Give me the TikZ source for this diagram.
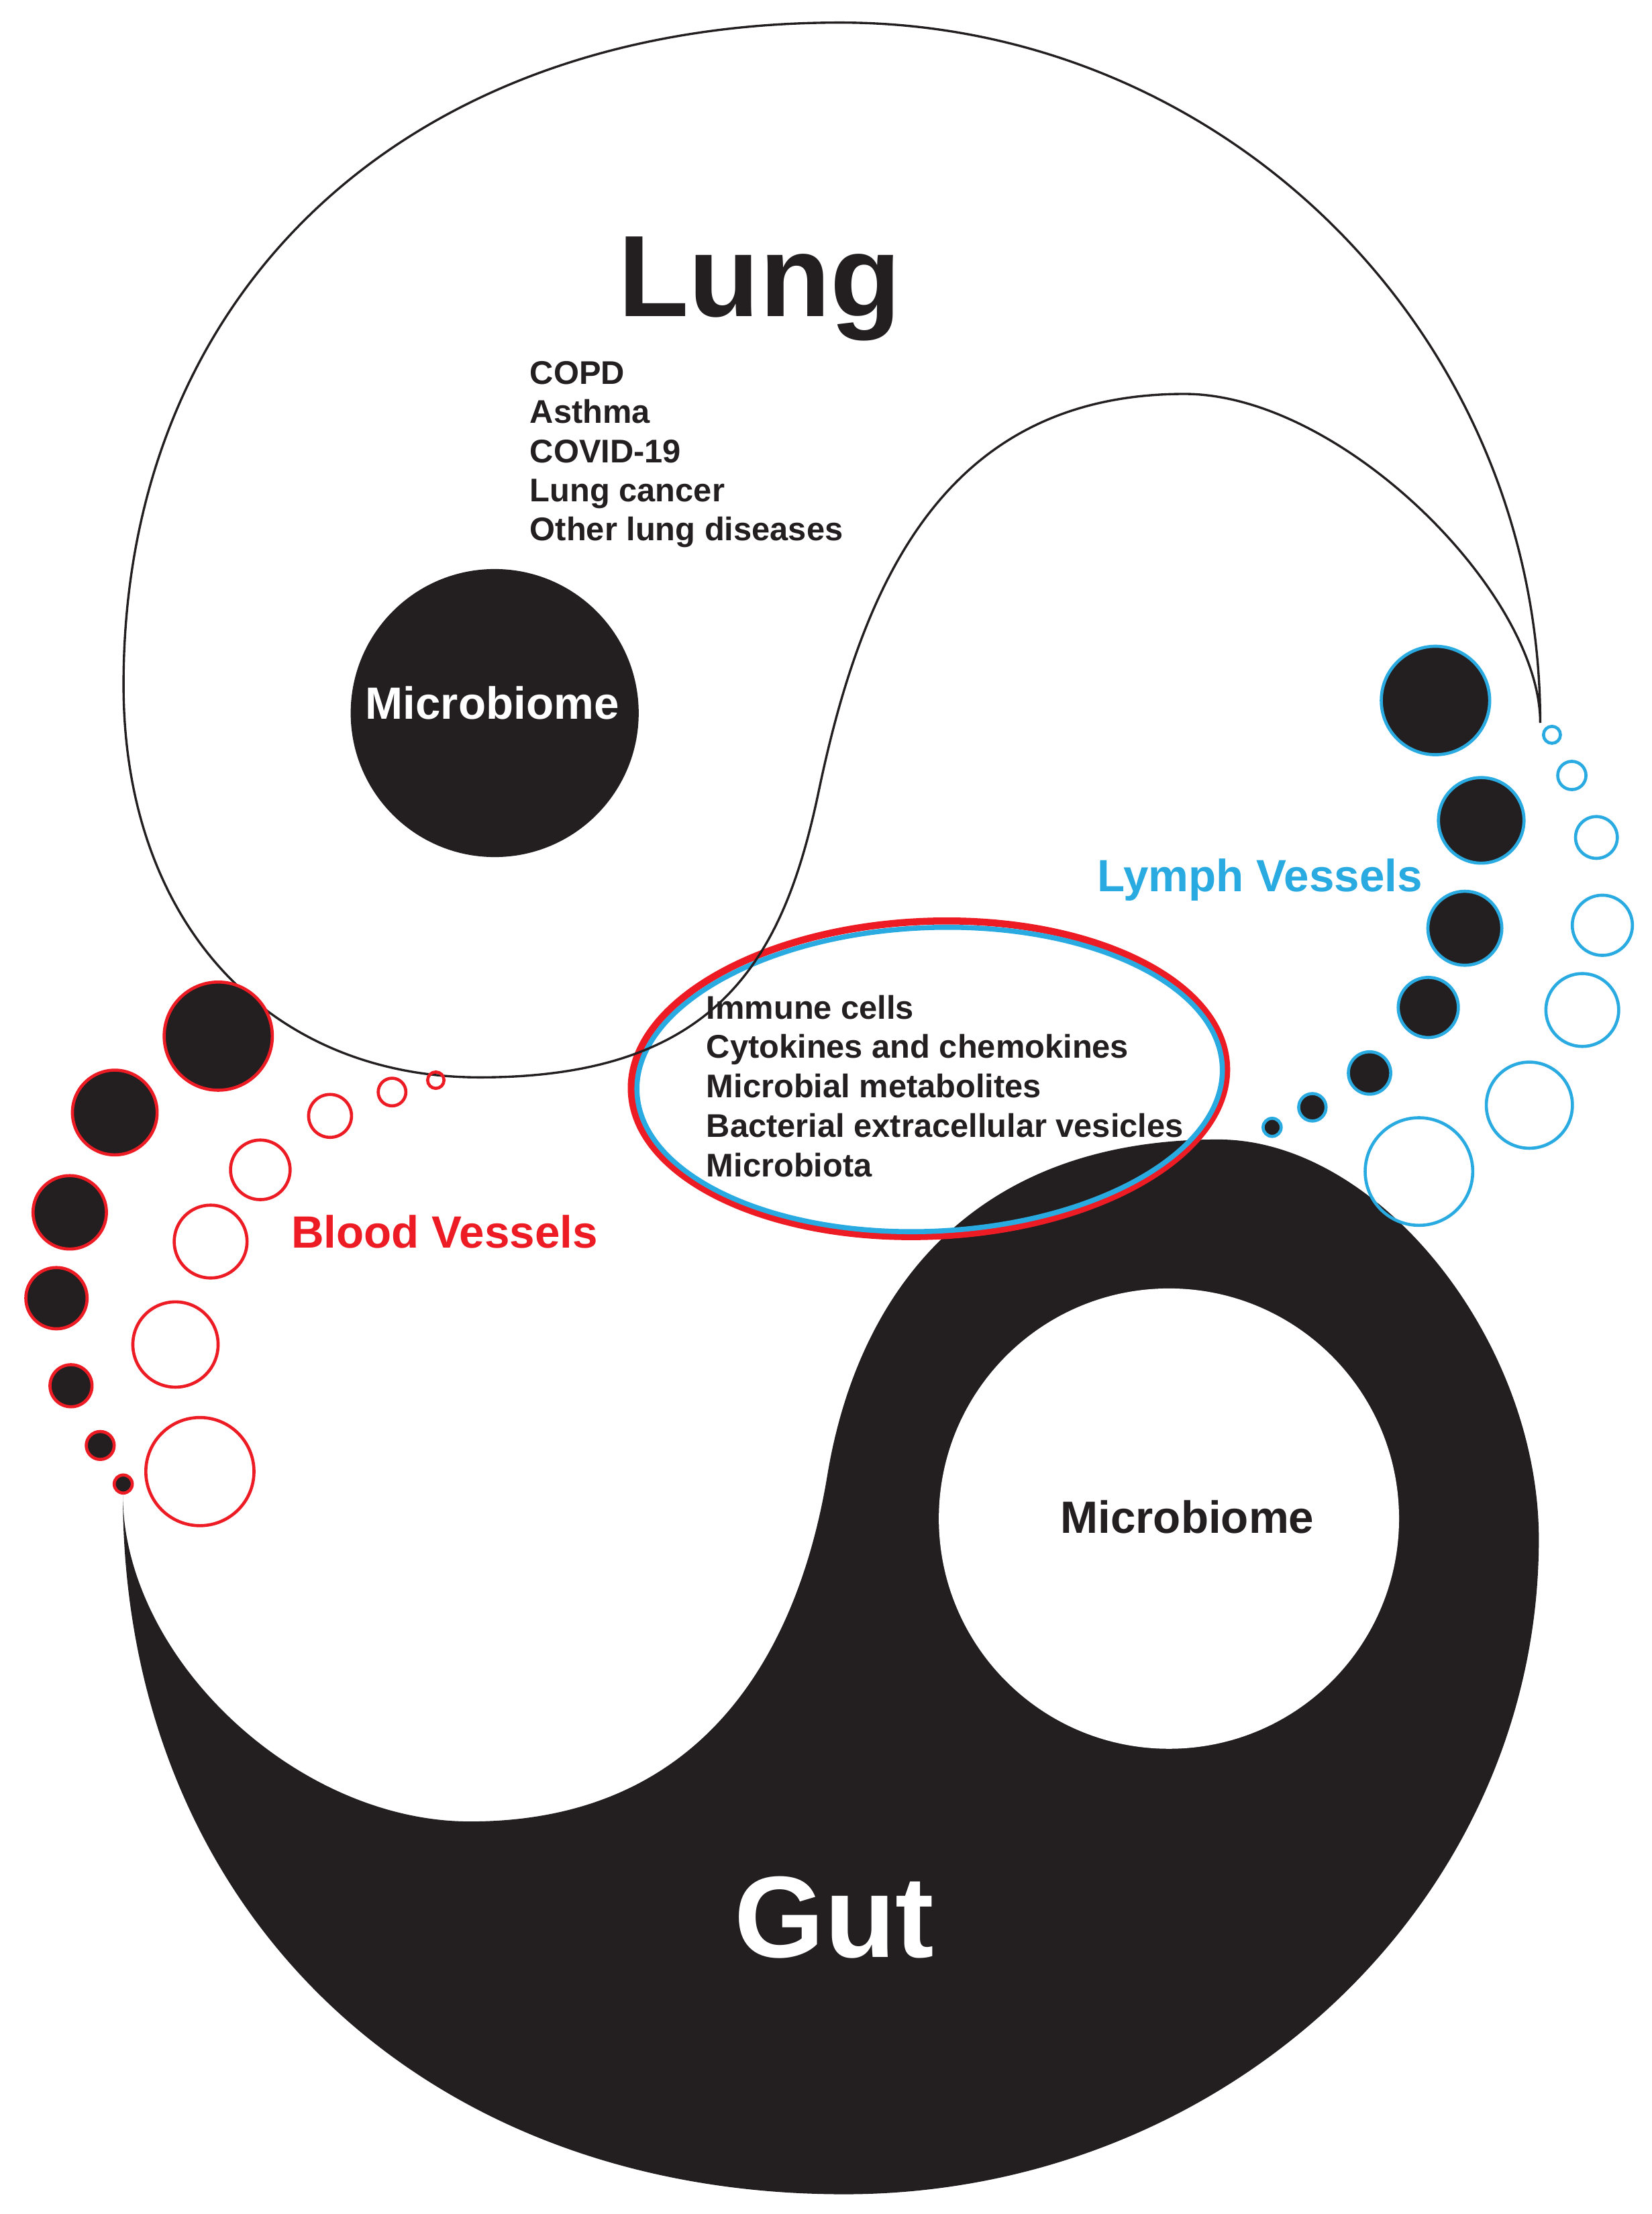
\documentclass[tikz,border=0pt]{standalone}
\usepackage{fontspec}
\setmainfont{Liberation Sans}
\definecolor{ink}{HTML}{231F20}
\definecolor{bred}{HTML}{ED1C24}
\definecolor{lblue}{HTML}{29ABE2}
\begin{document}
\begin{tikzpicture}[x=0.5pt,y=-0.5pt,
  lungline/.style={draw=ink, line width=0.8pt},
  bigtitle/.style={font=\fontsize{41}{41}\selectfont\bfseries, inner sep=0pt, anchor=base west},
  listtext/.style={font=\fontsize{11.6}{13.9}\selectfont\bfseries, inner sep=0pt, anchor=base west, text=ink},
  vessellabel/.style={font=\fontsize{16}{18}\selectfont\bfseries, inner sep=0pt, anchor=base west},
  microtext/.style={font=\fontsize{16}{18}\selectfont\bfseries, inner sep=0pt, anchor=base},
  bloodfull/.style={fill=ink, draw=bred, line width=1.1pt},
  bloodopen/.style={draw=bred, line width=1.1pt},
  lymphfull/.style={fill=ink, draw=lblue, line width=1.1pt},
  lymphopen/.style={draw=lblue, line width=1.1pt}]
\useasboundingbox (0,0) rectangle (1170,1568);
\fill[white] (0,0) rectangle (1170,1568);

% Gut (black tear shape)
\fill[ink] (87,1058) .. controls (87,1350.6) and (296.5,1554) .. (598,1554)
  .. controls (869,1554) and (1090,1346) .. (1090,1090)
  .. controls (1090,949.5) and (976.5,807) .. (863,807)
  .. controls (683,807) and (606.4,921.6) .. (586,1045)
  .. controls (566.4,1163.4) and (503,1290) .. (333,1290)
  .. controls (210,1290) and (87,1174) .. (87,1058) -- cycle;
\fill[white] (828,1075.5) circle[radius=163];

% Lung microbiome
\fill[ink] (350.4,505) circle[radius=102];

% Central ellipses
\draw[bred, line width=2.5pt, rotate around={2.5:(658,764)}] (658,764) ellipse[x radius=211, y radius=111.5];
\draw[lblue, line width=1.8pt, rotate around={2.5:(658.5,764.5)}] (658.5,764.5) ellipse[x radius=207.5, y radius=107.5];

% Lung outline
\draw[lungline] (1091,512) .. controls (1091,238) and (869,16) .. (595,16)
  .. controls (290.5,16) and (87.5,203.6) .. (87.5,485)
  .. controls (87.5,651.8) and (188.5,763) .. (340,763)
  .. controls (510,763) and (555.4,677.5) .. (580,560)
  .. controls (610.8,413.2) and (669,279) .. (839,279)
  .. controls (950,279) and (1091,420) .. (1091,512);

% Titles
\node[bigtitle, text=ink] (lung) at (437.5,223.9) {Lung};
\node[bigtitle, text=white] (gut) at (520,1386) {Gut};

% Disease list
\foreach \t [count=\i from 0] in {COPD,Asthma,COVID-19,Lung cancer,Other lung diseases}
  \node[listtext] (dis\i) at (375,272+27.75*\i) {\t};

% Mediators list
\foreach \t [count=\i from 0] in {Immune cells,Cytokines and chemokines,Microbial metabolites,Bacterial extracellular vesicles,Microbiota}
  \node[listtext] (med\i) at (500,721.6+27.9*\i) {\t};

% Microbiome labels
\node[microtext, text=white] (lungmb) at (348.7,509.3) {Microbiome};
\node[microtext, text=ink] (gutmb) at (841,1085.9) {Microbiome};

% Vessel labels
\node[vessellabel, text=lblue] (lymph) at (777,631.4) {Lymph Vessels};
\node[vessellabel, text=bred] (blood) at (206,884) {Blood Vessels};

% Blood vessel circles
\foreach \x/\y/\r in {154.6/733.8/38.3, 81.3/787.9/30, 49.4/858.6/26, 40/919.4/21.7, 50.3/981.4/14.9, 71/1023.7/9.9, 87.3/1051/6.4}
  \draw[bloodfull] (\x,\y) circle[radius=\r];
\foreach \x/\y/\r in {308.7/765/5.8, 277.7/773.4/9.8, 233.8/790.3/15.2, 184.4/828.5/21.1, 149.2/879.3/25.8, 124.3/952.2/30.2, 141.6/1042.2/38.3}
  \draw[bloodopen] (\x,\y) circle[radius=\r];

% Lymph vessel circles
\foreach \x/\y/\r in {1016.8/496.1/38.4, 1049.2/581/30.3, 1037.6/657.4/26.2, 1011.7/713.5/21.3, 970.1/759.9/15, 929.6/784.2/9.7, 901.1/798.4/6.4}
  \draw[lymphfull] (\x,\y) circle[radius=\r];
\foreach \x/\y/\r in {1099.3/520.4/6, 1113.4/549.2/10, 1130.8/593.1/14.8, 1135/655.3/21.3, 1120.8/715.3/25.8, 1083.3/782.7/30.5, 1005.1/829.7/38.1}
  \draw[lymphopen] (\x,\y) circle[radius=\r];
\end{tikzpicture}
\end{document}
